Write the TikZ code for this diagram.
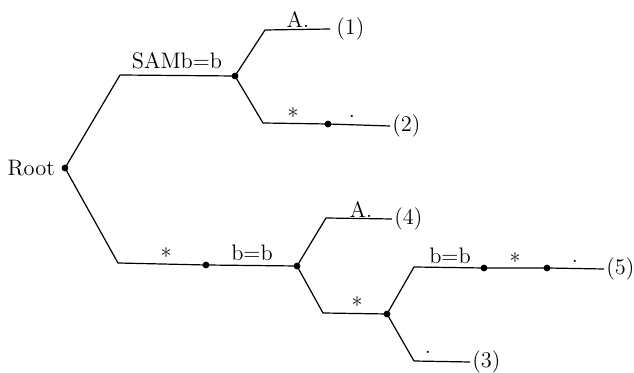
\documentclass[tikz,border=0pt]{standalone}
\usetikzlibrary{positioning}

\begin{document}
\begin{tikzpicture}[
		x=0.5pt, y=-0.5pt,
		font=\fontsize{11.2}{13.4}\selectfont,
		dot/.style  ={circle,fill,inner sep=0pt,minimum size=3.4pt},
		lbl/.style  ={inner sep=0pt},
		leaf/.style ={inner sep=1pt,anchor=west},
		edge/.style ={draw,line width=0.6pt,line join=round}
		]
		\useasboundingbox (0,0) rectangle (634,373);

		% ---- junctions and marked points ----
		\node[dot] (root) at ( 65,168) {};
		\node[dot] (n1)   at (235, 76) {};
		\node[dot] (s2)   at (328,124) {};
		\node[dot] (s3)   at (206,265) {};
		\node[dot] (n2)   at (297,266) {};
		\node[dot] (n3)   at (387,314) {};
		\node[dot] (s5a)  at (484,268) {};
		\node[dot] (s5b)  at (547,268) {};

		% ---- corners ----
		\coordinate (cu1) at (120, 75);
		\coordinate (cu2) at (265, 30);
		\coordinate (cd2) at (263,123);
		\coordinate (cd3) at (118,263);
		\coordinate (cu4) at (326,218);
		\coordinate (cd4) at (323,313);
		\coordinate (cu5) at (414,267);
		\coordinate (cd5) at (414,361);

		% ---- leaves ----
		\node[leaf,inner sep=3pt] (p1) at (330, 29) {(1)};
		\node[leaf] (p2) at (390,126) {(2)};
		\node[leaf] (p4) at (392,219) {(4)};
		\node[leaf] (p5) at (604,269) {(5)};
		\node[leaf] (p3) at (470,362) {(3)};

		% ---- labels ----
		\node[lbl,left=3pt of root] (rootlbl) {Root};
		\node[lbl] (samb)  at (177, 61) {SAMb=b};
		\node[lbl] (a1)    at (298, 20) {A.};
		\node[lbl] (st2)   at (293,116) {*};
		\node[lbl] (pd2)   at (352,116) {.};
		\node[lbl] (st3)   at (166,256) {*};
		\node[lbl] (bb3)   at (252,253) {b=b};
		\node[lbl] (a4)    at (361,210) {A.};
		\node[lbl] (st4)   at (357,305) {*};
		\node[lbl] (bb5)   at (450,256) {b=b};
		\node[lbl] (st5)   at (515,261) {*};
		\node[lbl] (pd5)   at (575,261) {.};
		\node[lbl] (pd3)   at (428,352) {.};

		% ---- upper subtree ----
		\draw[edge] (root.center) -- (cu1) -- (n1.center);
		\draw[edge] (n1.center) -- (cu2) -- (p1.west);
		\draw[edge] (n1.center) -- (cd2) -- (s2.center) -- (p2.west);

		% ---- lower subtree ----
		\draw[edge] (root.center) -- (cd3) -- (s3.center) -- (n2.center);
		\draw[edge] (n2.center) -- (cu4) -- (p4.west);
		\draw[edge] (n2.center) -- (cd4) -- (n3.center);
		\draw[edge] (n3.center) -- (cu5) -- (s5a.center) -- (s5b.center) -- (p5.west);
		\draw[edge] (n3.center) -- (cd5) -- (p3.west);

	\end{tikzpicture}
\end{document}
